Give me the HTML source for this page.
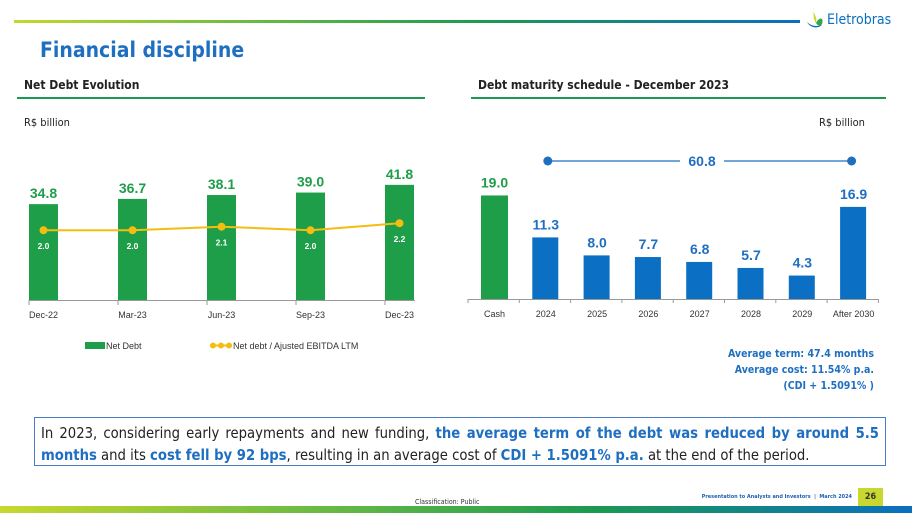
<!DOCTYPE html>
<html><head><meta charset="utf-8">
<style>
body{margin:0;width:912px;height:513px;overflow:hidden;background:#fff;font-family:"Liberation Sans",sans-serif;position:relative}
.abs{position:absolute}
.hd{font-family:"DejaVu Sans Condensed","Liberation Sans",sans-serif}
</style></head><body>
<div class="abs" style="left:14px;top:20px;width:786px;height:3px;background:linear-gradient(90deg,#c3d82e,#5cb646 35%,#1a9a50 60%,#0a6fbf)"></div>
<svg class="abs" style="left:804px;top:6px" width="24" height="26"><path d="M10 1 C8 8 14 10 12 17 C10 14 9 12 10 1Z" fill="#c8d82e"/><path d="M12 17 C16 10 20 12 18 18 C16 21 14 20 12 17Z" fill="#2ea64a"/><path d="M3 16 C6 22 14 23 18 19 C12 21 7 20 3 16Z" fill="#0a6fbf"/></svg>
<div class="abs hd" style="left:827px;top:12px;font-size:14px;color:#0a6fbf">Eletrobras</div>
<div class="abs hd" style="left:40px;top:38px;font-size:21px;font-weight:bold;color:#1f6fc0">Financial discipline</div>
<div class="abs hd" style="left:24px;top:78px;font-size:12px;font-weight:bold;color:#222">Net Debt Evolution</div>
<div class="abs" style="left:17px;top:97px;width:408px;height:1.5px;background:#1a9a50"></div>
<div class="abs hd" style="left:478px;top:78px;font-size:12px;font-weight:bold;color:#222">Debt maturity schedule - December 2023</div>
<div class="abs" style="left:471px;top:97px;width:415px;height:1.5px;background:#1a9a50"></div>
<div class="abs hd" style="left:24px;top:116px;font-size:11px;color:#222">R$ billion</div>
<div class="abs hd" style="left:819px;top:116px;font-size:11px;color:#222">R$ billion</div>

<svg class="abs" style="left:0;top:0" width="912" height="513" id="charts"></svg>

<div class="abs hd" style="right:38px;top:346px;font-size:10.5px;font-weight:bold;color:#1f6fc0;text-align:right;line-height:16px">Average term: 47.4 months<br>Average cost: 11.54% p.a.<br>(CDI + 1.5091% )</div>

<div class="abs hd" style="left:34px;top:417px;width:838px;height:37px;border:1.5px solid #4a7cc7;padding:5px 6px;font-size:14.7px;line-height:22px;color:#222;text-align:justify">In 2023, considering early repayments and new funding, <b style="color:#1f6fc0">the average term of the debt was reduced by around 5.5 months</b> and its <b style="color:#1f6fc0">cost fell by 92 bps</b>, resulting in an average cost of <b style="color:#1f6fc0">CDI + 1.5091% p.a.</b> at the end of the period.</div>

<div class="abs hd" style="left:415px;top:498px;font-size:7px;color:#333">Classification: Public</div>
<div class="abs hd" style="right:60px;top:494px;font-size:5.5px;font-weight:bold;color:#1f5fae;white-space:nowrap">Presentation to Analysts and Investors &nbsp;|&nbsp; March 2024</div>
<div class="abs hd" style="left:858px;top:488px;width:25px;height:18px;background:#c8d82e;color:#333;font-size:9px;font-weight:bold;text-align:center;line-height:18px">26</div>
<div class="abs" style="left:0;top:506px;width:912px;height:7px;background:linear-gradient(90deg,#c8d82e,#5cb646 40%,#1a9a50 65%,#0a6fbf)"></div>

<script>
const ndCategories=["Dec-22","Mar-23","Jun-23","Sep-23","Dec-23"];
const ndValues=[34.8,36.7,38.1,39.0,41.8];
const ndLabels=["34.8","36.7","38.1","39.0","41.8"];
const ratioValues=[2.0,2.0,2.1,2.0,2.2];
const ratioLabels=["2.0","2.0","2.1","2.0","2.2"];
const matCategories=["Cash","2024","2025","2026","2027","2028","2029","After 2030"];
const matValues=[19.0,11.3,8.0,7.7,6.8,5.7,4.3,16.9];
const matLabels=["19.0","11.3","8.0","7.7","6.8","5.7","4.3","16.9"];
const totalLabel="60.8";

const svg=document.getElementById('charts');
const NS='http://www.w3.org/2000/svg';
function mk(tag,attrs,parent){const e=document.createElementNS(NS,tag);for(const k in attrs)e.setAttribute(k,attrs[k]);(parent||svg).appendChild(e);return e;}
const F='"Liberation Sans",sans-serif';
const green='#1e9e48',blue='#0b6fc4',gold='#f5bd10';

const lx=i=>43.5+i*89, ly=v=>300-v*2.755, ry=v=>300-v*34.9;
let e=mk('line',{x1:29,x2:415,y1:300.5,y2:300.5,stroke:'#999'});

ndCategories.forEach((c,i)=>{
  let t=mk('line',{x1:29+i*89,x2:29+i*89,y1:300,y2:305,stroke:'#999'});
  
  let b=mk('rect',{x:lx(i)-14.5,y:ly(ndValues[i]),width:29,height:300-ly(ndValues[i]),fill:green});
  
  let v=mk('text',{x:lx(i),y:ly(ndValues[i])-6,'text-anchor':'middle','font-size':14,'font-weight':'bold',fill:green,'font-family':F});v.textContent=ndLabels[i];
  
  let xl=mk('text',{x:lx(i),y:318,'text-anchor':'middle','font-size':9,fill:'#333','font-family':F});xl.textContent=c;
  
});
let pl=mk('polyline',{points:ratioValues.map((v,i)=>lx(i)+','+ry(v)).join(' '),fill:'none',stroke:gold,'stroke-width':2});

ratioValues.forEach((v,i)=>{
  let c=mk('circle',{cx:lx(i),cy:ry(v),r:4,fill:gold});
  
  let t=mk('text',{x:lx(i),y:ry(v)+19,'text-anchor':'middle','font-size':8.5,'font-weight':'bold',fill:'#fff','font-family':F});t.textContent=ratioLabels[i];
  
});
let lg=mk('rect',{x:85,y:342,width:20,height:7,fill:green});
let lt=mk('text',{x:106,y:349,'font-size':9,fill:'#333','font-family':F});lt.textContent='Net Debt';
let ll=mk('line',{x1:210,x2:232,y1:345.5,y2:345.5,stroke:gold,'stroke-width':2});
[213,221,229].forEach(x=>{let c=mk('circle',{cx:x,cy:345.5,r:3,fill:gold});});
let lt2=mk('text',{x:233,y:349,'font-size':9,fill:'#333','font-family':F});lt2.textContent='Net debt / Ajusted EBITDA LTM';

const mx=i=>494.5+i*51.3, my=v=>299-v*5.45;
e=mk('line',{x1:468,x2:879,y1:299.5,y2:299.5,stroke:'#999'});

for(let i=0;i<=matCategories.length;i++){let t=mk('line',{x1:468+i*51.3,x2:468+i*51.3,y1:299,y2:303,stroke:'#999'});}
matCategories.forEach((c,i)=>{
  const col=i===0?green:blue;
  let b=mk('rect',{x:mx(i)-13.5,y:my(matValues[i]),width:i===0?27:26,height:299-my(matValues[i]),fill:col});
  
  let v=mk('text',{x:mx(i),y:my(matValues[i])-8,'text-anchor':'middle','font-size':14,'font-weight':'bold',fill:i===0?green:'#1f6fc0','font-family':F});v.textContent=matLabels[i];
  
  let xl=mk('text',{x:mx(i),y:317,'text-anchor':'middle','font-size':9,fill:'#333','font-family':F});xl.textContent=c;
  
});
let bl1=mk('line',{x1:mx(1),x2:680,y1:161,y2:161,stroke:'#1f6fc0','stroke-width':1.3});
let bl2=mk('line',{x1:724,x2:mx(7)-2,y1:161,y2:161,stroke:'#1f6fc0','stroke-width':1.3});
[mx(1)+2,mx(7)-2].forEach(x=>{let c=mk('circle',{cx:x,cy:161,r:4.5,fill:'#1f6fc0'});});
let tl=mk('text',{x:702,y:166,'text-anchor':'middle','font-size':14,'font-weight':'bold',fill:'#1f6fc0','font-family':F});tl.textContent=totalLabel;

</script>
</body></html>
